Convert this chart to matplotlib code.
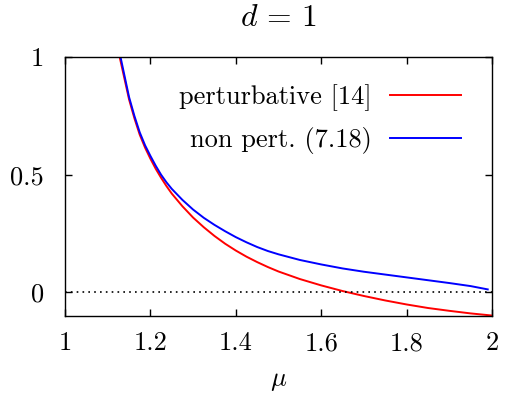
import numpy as np
import matplotlib
matplotlib.use("Agg")
import matplotlib.pyplot as plt

# values
mu_pert = [1.128, 1.15, 1.1625, 1.175, 1.1875, 1.2, 1.2125, 1.225, 1.2375, 1.25,
           1.275, 1.3, 1.325, 1.35, 1.375, 1.4, 1.425, 1.45, 1.475, 1.5,
           1.55, 1.6, 1.65, 1.7, 1.75, 1.8, 1.85, 1.9, 1.95, 2.0]
pert = [1.0, 0.82, 0.74, 0.67, 0.615, 0.568, 0.525, 0.487, 0.452, 0.42,
        0.366, 0.318, 0.277, 0.240, 0.207, 0.178, 0.152, 0.129, 0.108, 0.089,
        0.057, 0.030, 0.006, -0.015, -0.034, -0.051, -0.066, -0.078, -0.089, -0.098]

mu_nonpert = [1.13, 1.15, 1.1625, 1.175, 1.1875, 1.2, 1.2125, 1.225, 1.2375, 1.25,
              1.275, 1.3, 1.325, 1.35, 1.375, 1.4, 1.425, 1.45, 1.475, 1.5,
              1.55, 1.6, 1.65, 1.7, 1.75, 1.8, 1.85, 1.9, 1.95, 1.99]
nonpert = [1.0, 0.83, 0.75, 0.68, 0.625, 0.58, 0.538, 0.50, 0.468, 0.44,
           0.393, 0.352, 0.317, 0.287, 0.260, 0.235, 0.213, 0.193, 0.176, 0.162,
           0.138, 0.119, 0.102, 0.088, 0.076, 0.064, 0.052, 0.040, 0.027, 0.013]

xticks = [1, 1.2, 1.4, 1.6, 1.8, 2]
xticklabels = ["1", "1.2", "1.4", "1.6", "1.8", "2"]
yticks = [0, 0.5, 1]
yticklabels = ["0", "0.5", "1"]

plt.rcParams["font.family"] = ["cmr10", "DejaVu Serif"]
plt.rcParams["mathtext.fontset"] = "cm"
plt.rcParams["axes.formatter.use_mathtext"] = True
plt.rcParams["font.size"] = 19

fig = plt.figure(figsize=(5.07, 3.98), dpi=100)
ax = fig.add_axes([65/507, 82/398, 427/507, 259/398])

ax.plot(mu_pert, pert, color="#ff0000", lw=1.4, label="perturbative [14]",
        solid_joinstyle="round")
ax.plot(mu_nonpert, nonpert, color="#0000ff", lw=1.4, label="non pert. (7.18)",
        solid_joinstyle="round")
ax.axhline(0, color="black", lw=1.2, ls=(0, (1, 2.5)))

ax.set_xlim(1, 2)
ax.set_ylim(-0.1, 1)
ax.set_xticks(xticks, xticklabels)
ax.set_yticks(yticks, yticklabels)
ax.tick_params(direction="in", top=True, right=True, length=5, width=1)
ax.tick_params(axis="y", pad=15)
ax.tick_params(axis="x", pad=11)
for s in ax.spines.values():
    s.set_linewidth(1.0)

ax.set_title(r"$d\,=\,1$", pad=22)
ax.set_xlabel(r"$\mu$", labelpad=10)

ax.legend(loc="upper right", bbox_to_anchor=(0.952, 0.934), frameon=False,
          markerfirst=False, handlelength=2.69, handletextpad=0.68,
          labelspacing=0.6, borderaxespad=0)

fig.savefig("out.png", dpi=100)
